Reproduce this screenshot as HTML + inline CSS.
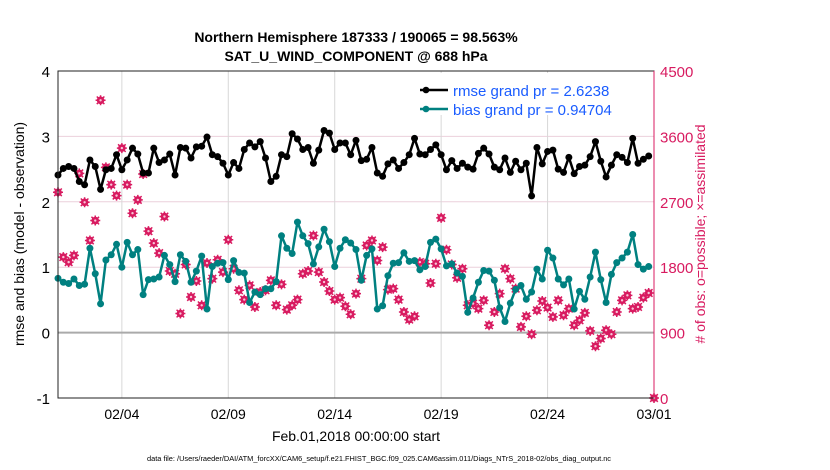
<!DOCTYPE html>
<html><head><meta charset="utf-8"><style>
body{margin:0;background:#fff;}
svg{display:block;font-family:"Liberation Sans",sans-serif;}
</style></head><body>
<svg id="chart" width="830" height="470" viewBox="0 0 830 470">
<text x="356" y="42" text-anchor="middle" font-size="14" font-weight="bold">Northern Hemisphere 187333 / 190065 = 98.563%</text>
<text x="356" y="61" text-anchor="middle" font-size="14" font-weight="bold">SAT_U_WIND_COMPONENT @ 688 hPa</text>
<g id="grid"></g>
<g id="marks"></g>
<rect x="58" y="71" width="596" height="327" fill="none" stroke="#222" stroke-width="1"/>
<line x1="654" y1="71" x2="654" y2="398" stroke="#d81b60" stroke-width="1"/>
<g id="axes"></g>
<text transform="translate(24,234) rotate(-90)" text-anchor="middle" font-size="14">rmse and bias (model - observation)</text>
<text transform="translate(705,234) rotate(-90)" text-anchor="middle" font-size="14" fill="#d81b60"># of obs: o=possible; ×=assimilated</text>
<text x="356" y="441" text-anchor="middle" font-size="14">Feb.01,2018 00:00:00 start</text>
<text x="379" y="461" text-anchor="middle" font-size="7" textLength="464" lengthAdjust="spacingAndGlyphs">data file: /Users/raeder/DAI/ATM_forcXX/CAM6_setup/f.e21.FHIST_BGC.f09_025.CAM6assim.011/Diags_NTrS_2018-02/obs_diag_output.nc</text>
<g>
<rect x="415" y="73" width="237" height="42" fill="#fff"/>
<line x1="420" y1="90" x2="448" y2="90" stroke="#000" stroke-width="2.5"/>
<circle cx="426" cy="90" r="3.3" fill="#000"/>
<text x="453" y="96" font-size="15" fill="#1a5cff">rmse grand pr = 2.6238</text>
<line x1="420" y1="109" x2="448" y2="109" stroke="#008080" stroke-width="2.5"/>
<circle cx="426" cy="109" r="3.3" fill="#008080"/>
<text x="453" y="115" font-size="15" fill="#1a5cff">bias grand pr = 0.94704</text>
</g>
</svg>
<script>
const rmse=[2.41,2.51,2.54,2.51,2.31,2.26,2.64,2.54,2.19,2.49,2.51,2.72,2.49,2.64,2.82,2.73,2.44,2.44,2.82,2.60,2.64,2.73,2.41,2.83,2.82,2.67,2.84,2.85,2.99,2.72,2.69,2.59,2.41,2.60,2.51,2.80,2.90,2.84,
2.92,2.67,2.31,2.39,2.72,2.69,3.04,2.96,2.80,2.83,2.59,2.79,3.09,3.05,2.80,2.90,2.90,2.72,2.94,2.63,2.65,2.83,2.44,2.39,2.58,2.64,2.51,2.60,2.72,2.97,2.73,2.72,2.80,2.87,2.72,2.49,2.63,2.51,
2.59,2.53,2.50,2.74,2.82,2.73,2.53,2.49,2.67,2.45,2.62,2.49,2.59,2.09,2.83,2.58,2.77,2.79,2.50,2.45,2.68,2.43,2.54,2.56,2.69,2.92,2.62,2.38,2.56,2.72,2.68,2.60,2.97,2.59,2.65,2.70];
const bias=[0.83,0.77,0.75,0.82,0.72,0.74,1.29,0.90,0.44,1.11,1.19,1.35,1.00,1.38,1.19,1.27,0.58,0.81,0.82,0.85,1.18,1.04,0.78,1.19,1.09,0.77,0.94,1.17,0.36,1.01,1.06,1.07,0.81,1.10,0.92,0.91,0.46,0.62,
0.58,0.67,0.67,0.78,1.48,1.29,1.21,1.69,1.48,1.36,1.05,1.31,1.58,1.39,1.01,1.29,1.42,1.37,1.27,0.80,1.18,1.28,0.36,0.41,0.87,1.06,1.07,1.22,1.09,1.10,0.96,1.01,1.38,1.43,1.28,1.02,1.05,0.91,
0.86,0.31,0.53,0.77,0.95,0.94,0.80,0.38,0.17,0.45,0.66,0.72,0.51,0.62,0.97,0.82,1.26,1.14,0.82,0.73,0.82,0.36,0.63,0.51,0.85,1.23,0.81,0.46,0.89,1.07,1.14,1.23,1.50,1.04,0.97,1.01];
const nobs=[2831,1939,1870,1962,3091,2693,2168,2442,4097,3174,2936,2785,3439,2936,2543,2726,3082,2296,2131,1994,2497,1747,1710,1162,1838,1390,1610,1276,1857,1642,1902,1733,2177,1779,1482,1354,1550,1253,
1459,1482,1619,1276,1564,1216,1276,1354,1710,1747,2236,1733,1596,1472,1354,1381,1262,1152,1436,1642,2099,2168,1893,2076,1491,1505,1354,1184,1079,1125,1870,1848,1582,1848,2479,2040,1838,1655,
1779,1276,1299,1230,1344,1002,1184,1436,1779,1642,1505,979,1125,878,1207,1335,1244,1116,1344,1139,1230,1002,1070,1171,924,713,819,933,878,1184,1344,1413,1230,1253,1381,1445,0];
const leftTicks=[4,3,2,1,0,-1];
const rightTicks=[4500,3600,2700,1800,900,0];
const xTickDays=[3,8,13,18,23,28];
const xTickLabels=["02/04","02/09","02/14","02/19","02/24","03/01"];

const NS="http://www.w3.org/2000/svg";
const X0=58,X1=654,Y0=71,Y1=398;
const xs=d=>X0+(d/28)*(X1-X0);
const yL=v=>Y1-(v+1)/5*(Y1-Y0);
const yR=v=>Y1-v/4500*(Y1-Y0);
function mk(tag,attrs,parent){const e=document.createElementNS(NS,tag);for(const k in attrs)e.setAttribute(k,attrs[k]);parent.appendChild(e);return e;}
const grid=document.getElementById('grid'),marks=document.getElementById('marks'),axes=document.getElementById('axes');

leftTicks.forEach(v=>{
  if(v>-1&&v<4&&v!==0){const l=mk('line',{x1:X0,x2:X1,y1:yL(v),y2:yL(v),stroke:'#ecd0dc','stroke-width':1},grid);
  
  }
  const t=mk('text',{x:X0-8,y:yL(v)+6,'text-anchor':'end','font-size':15},axes);t.textContent=v;
  
  
});
rightTicks.forEach(v=>{
  const t=mk('text',{x:X1+6,y:yR(v)+6,'font-size':15,fill:'#d81b60'},axes);t.textContent=v;
  
  
});
xTickDays.forEach((d,i)=>{
  const l=mk('line',{x1:xs(d),x2:xs(d),y1:Y0,y2:Y1,stroke:'#d8d8d8','stroke-width':1},grid);
  
  
  const t=mk('text',{x:xs(d),y:419,'text-anchor':'middle','font-size':14},axes);t.textContent=xTickLabels[i];
  
  
});
const zl=mk('line',{x1:X0,x2:X1,y1:yL(0),y2:yL(0),stroke:'#aaa','stroke-width':2},grid);



nobs.forEach((c,i)=>{
  const x=xs(i/4),y=yR(c);
  const g=mk('g',{},marks);
  
  
  mk('circle',{cx:x,cy:y,r:3.8,fill:'#d81b60'},g);
  mk('path',{d:`M${x-5} ${y}H${x+5}M${x} ${y-5}V${y+5}M${x-3.8} ${y-3.8}L${x+3.8} ${y+3.8}M${x-3.8} ${y+3.8}L${x+3.8} ${y-3.8}`,stroke:'#d81b60','stroke-width':1.5},g);
  mk('circle',{cx:x,cy:y,r:1.2,fill:'#f7c6d8'},g);
});
function series(arr,col,name){
  const p=mk('polyline',{points:arr.map((v,i)=>xs(i/4)+','+yL(v)).join(' '),fill:'none',stroke:col,'stroke-width':2.5,'stroke-linejoin':'round'},marks);
  
  
  arr.forEach((v,i)=>{
    const c=mk('circle',{cx:xs(i/4),cy:yL(v),r:3.5,fill:col},marks);
    
    
  });
}
series(bias,'#008080','bias');
series(rmse,'#000','rmse');
</script>
</body></html>
